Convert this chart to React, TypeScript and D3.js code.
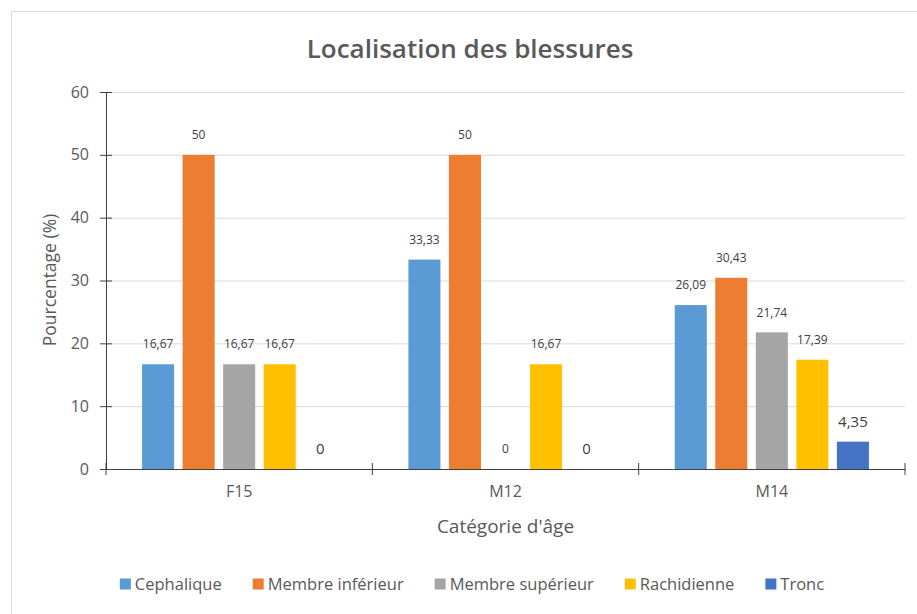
import React, { useEffect, useRef } from 'react';
import * as d3 from 'd3';

const categories = ['F15', 'M12', 'M14'];
const seriesNames = ['Cephalique', 'Membre inférieur', 'Membre supérieur', 'Rachidienne', 'Tronc'];
const seriesColors = ['#5b9bd5', '#ed7d31', '#a5a5a5', '#ffc000', '#4472c4'];
const cephalique = [16.67, 33.33, 26.09];
const membreInferieur = [50, 50, 30.43];
const membreSuperieur = [16.67, 0, 21.74];
const rachidienne = [16.67, 16.67, 17.39];
const tronc = [0, 0, 4.35];
const yTicks = [0, 10, 20, 30, 40, 50, 60];

const seriesValues = [cephalique, membreInferieur, membreSuperieur, rachidienne, tronc];

const FONT = "'Open Sans', sans-serif";
const TEXT = '#595959';

export default function App() {
  const ref = useRef<SVGSVGElement>(null);

  useEffect(() => {
    const width = 917;
    const height = 614;
    const margin = { top: 92, right: 12, bottom: 145, left: 106 };
    const innerW = width - margin.left - margin.right;
    const innerH = height - margin.top - margin.bottom;

    const svg = d3.select(ref.current);
    svg.selectAll('*').remove();

    svg.append('rect')
      .attr('x', 11.5).attr('y', 11.5)
      .attr('width', 940).attr('height', 640)
      .attr('fill', '#fff').attr('stroke', '#d9d9d9');

    svg.append('text')
      .attr('x', 470).attr('y', 58)
      .attr('text-anchor', 'middle')
      .attr('font-family', FONT).attr('font-weight', 600)
      .attr('font-size', 26).attr('fill', TEXT)
      .text('Localisation des blessures');

    const g = svg.append('g').attr('transform', `translate(${margin.left},${margin.top})`);

    const x0 = d3.scaleBand().domain(categories).range([0, innerW]).padding(0);
    const x1 = d3.scaleBand().domain(seriesNames).range([0, x0.bandwidth()])
      .paddingInner(0.21).paddingOuter(0.89);
    const y = d3.scaleLinear().domain([0, 60]).range([innerH, 0]);

    // grid
    g.selectAll('line.grid').data(yTicks.slice(1)).join('line')
      .attr('class', 'grid')
      .attr('x1', 0).attr('x2', innerW)
      .attr('y1', d => y(d) + 0.5).attr('y2', d => y(d) + 0.5)
      .attr('stroke', '#d9d9d9');

    // bars + labels
    const rows = categories.flatMap((c, ci) =>
      seriesNames.map((s, si) => ({ c, s, si, v: seriesValues[si][ci] })));

    g.selectAll('rect.bar').data(rows).join('rect')
      .attr('class', 'bar')
      .attr('x', d => x0(d.c)! + x1(d.s)!)
      .attr('y', d => y(d.v))
      .attr('width', x1.bandwidth())
      .attr('height', d => innerH - y(d.v))
      .attr('fill', d => seriesColors[d.si]);

    g.selectAll('text.lbl').data(rows).join('text')
      .attr('class', 'lbl')
      .attr('x', d => x0(d.c)! + x1(d.s)! + x1.bandwidth() / 2)
      .attr('y', d => y(d.v) - 20)
      .attr('dy', '0.35em')
      .attr('text-anchor', 'middle')
      .attr('font-family', FONT)
      .attr('font-size', d => (d.si === 4 ? 15 : 12))
      .attr('fill', '#404040')
      .text(d => String(d.v).replace('.', ','));

    // y axis
    const yAxis = g.append('g').call(
      d3.axisLeft(y).tickValues(yTicks).tickSize(0).tickPadding(17)
    );
    yAxis.select('.domain').attr('stroke', '#404040');
    yAxis.selectAll('.tick text')
      .attr('font-family', FONT).attr('font-size', 16).attr('fill', TEXT);
    yAxis.selectAll('.tick').append('line')
      .attr('x1', -6).attr('x2', 6).attr('stroke', '#404040');

    // x axis
    const xAxis = g.append('g').attr('transform', `translate(0,${innerH})`)
      .call(d3.axisBottom(x0).tickSize(0).tickPadding(17));
    xAxis.select('.domain').attr('stroke', '#404040');
    xAxis.selectAll('.tick text')
      .attr('font-family', FONT).attr('font-size', 16).attr('fill', TEXT);
    const bounds = [0, ...categories.map(c => x0(c)! + x0.bandwidth())];
    xAxis.selectAll('line.sep').data(bounds).join('line')
      .attr('class', 'sep')
      .attr('x1', d => d).attr('x2', d => d)
      .attr('y1', -6).attr('y2', 6)
      .attr('stroke', '#404040');

    // axis titles
    svg.append('text')
      .attr('x', margin.left + innerW / 2).attr('y', 533)
      .attr('text-anchor', 'middle')
      .attr('font-family', FONT).attr('font-size', 19).attr('fill', TEXT)
      .text("Catégorie d'âge");

    svg.append('text')
      .attr('transform', `translate(56,280) rotate(-90)`)
      .attr('text-anchor', 'middle')
      .attr('font-family', FONT).attr('font-size', 17.5).attr('fill', TEXT)
      .text('Pourcentage (%)');

    // legend
    const gap = 31;
    const legend = svg.append('g');
    const items = legend.selectAll('g').data(seriesNames).join('g');
    items.append('rect')
      .attr('width', 11).attr('height', 11).attr('y', -5.5)
      .attr('fill', (_, i) => seriesColors[i]);
    items.append('text')
      .attr('x', 15).attr('dy', '0.35em')
      .attr('font-family', FONT).attr('font-size', 16.5).attr('fill', TEXT)
      .text(d => d);
    let cx = 0;
    items.each(function () {
      const node = this as SVGGElement;
      const t = node.querySelector('text') as SVGTextElement;
      d3.select(node).attr('transform', `translate(${cx},0)`);
      cx += 15 + t.getComputedTextLength() + gap;
    });
    const total = cx - gap;
    legend.attr('transform', `translate(${472 - total / 2},584)`);
  }, []);

  return (
    <svg ref={ref} width={917} height={614}
      style={{ position: 'absolute', left: 0, top: 0, background: '#fff' }} />
  );
}
